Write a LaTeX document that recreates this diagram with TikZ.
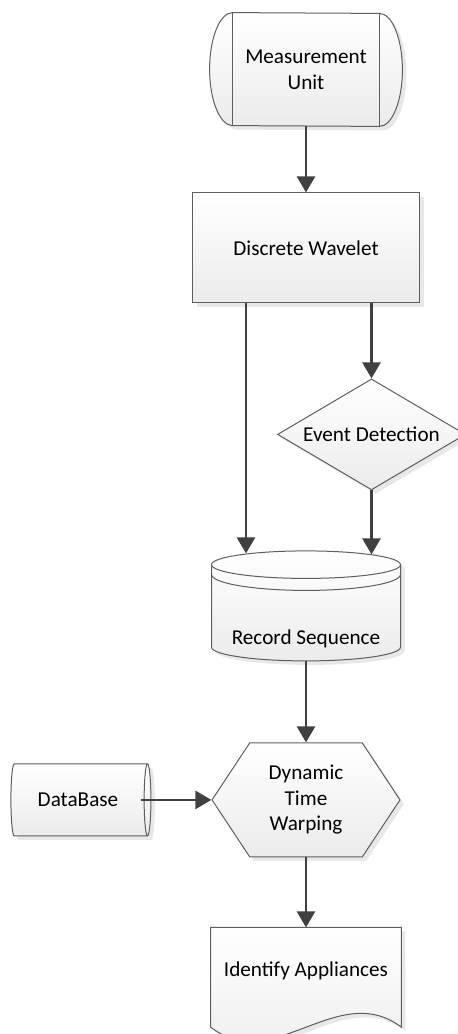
\documentclass[tikz,border=0pt]{standalone}
\usepackage{fontspec}
\setmainfont{Carlito}
\usetikzlibrary{arrows.meta,positioning,calc,shapes.geometric,shapes.symbols,shadows}
\definecolor{outline}{HTML}{5E5E5E}
\definecolor{arrowgray}{HTML}{404040}
\definecolor{shade}{HTML}{EBEBEB}
\pgfdeclarelayer{background}
\pgfsetlayers{background,main}
\tikzset{
	filled/.style={draw=outline, line width=0.5pt, top color=white, bottom color=shade, drop shadow={shadow xshift=2pt, shadow yshift=-2pt, opacity=0.18}},
	textnode/.style={align=center, inner sep=0pt},
	box/.style={filled, rectangle, align=center, minimum width=113.5pt, minimum height=55pt},
	decision/.style={filled, diamond, aspect=1.69, inner sep=0pt, align=center, minimum width=94pt, minimum height=55.5pt},
	store/.style={filled, cylinder, shape border rotate=90, aspect=0.17, align=center, minimum width=94.5pt, minimum height=55pt},
	drum/.style={filled, cylinder, aspect=0.25, align=center, minimum width=36pt, minimum height=70pt},
	prep/.style={filled, signal, signal to=east and west, signal pointer angle=113, align=center, minimum width=94pt, minimum height=57pt},
	flow/.style={-{Triangle[length=8pt,width=9pt]}, line width=1.3pt, draw=arrowgray}
}
\begin{document}
\begin{tikzpicture}[font=\fontsize{10.6}{12.8}\selectfont]
	\useasboundingbox (0,0) rectangle (228.5pt,-517pt);
	\node[textnode, minimum width=73pt, minimum height=56.5pt] (mu) at (153pt,-34.75pt) {Measurement\\Unit};
	\node[box, below=33pt of mu] (dw) {Discrete Wavelet};
	\node[decision, below=37.5pt of dw, xshift=32.75pt] (ed) {Event Detection};
	\node[store, inner ysep=0pt, text height=31pt, below=123.5pt of dw] (rs) {Record Sequence};
	\node[prep, below=40.5pt of rs] (dtw) {Dynamic\\Time\\Warping};
	\node[drum, left=30pt of dtw] (db) {DataBase};
	\node[textnode, text depth=8pt, minimum width=95pt, minimum height=49.5pt, below=35pt of dtw] (doc) {Identify Appliances};
	% outlines drawn behind the text
	\begin{pgfonlayer}{background}
		\path[filled] (mu.north west) arc[start angle=90, end angle=270, x radius=11.5pt, y radius=28.25pt]
			-- (mu.south east) arc[start angle=-90, end angle=90, x radius=11.5pt, y radius=28.25pt] -- cycle;
		\draw[outline, line width=0.5pt] (mu.north west) -- (mu.south west) (mu.north east) -- (mu.south east);
		\path[filled] (doc.south west) -- (doc.north west) -- (doc.north east) -- (doc.south east)
			.. controls +(-31.7pt,24pt) and +(31.7pt,-24pt) .. (doc.south west) -- cycle;
	\end{pgfonlayer}
	\draw[outline, line width=0.5pt] ($(rs.north)+(-47.25pt,-12pt)$) arc[start angle=180, end angle=360, x radius=47.25pt, y radius=8pt];
	\draw[flow] (mu.south) -- (dw.north);
	\draw[flow] ([xshift=-30pt]dw.south) -- ($([xshift=-30pt]dw.south |- rs.north)+(0,-1.5pt)$);
	\draw[flow] (dw.south -| ed.north) -- (ed.north);
	\draw[flow] (ed.south) -- ($(ed.south |- rs.north)+(0,-2pt)$);
	\draw[flow] (rs.south) -- (dtw.north);
	\draw[flow] ([xshift=-5pt]db.east) -- (dtw.west);
	\draw[flow] (dtw.south) -- (doc.north);
\end{tikzpicture}
\end{document}
